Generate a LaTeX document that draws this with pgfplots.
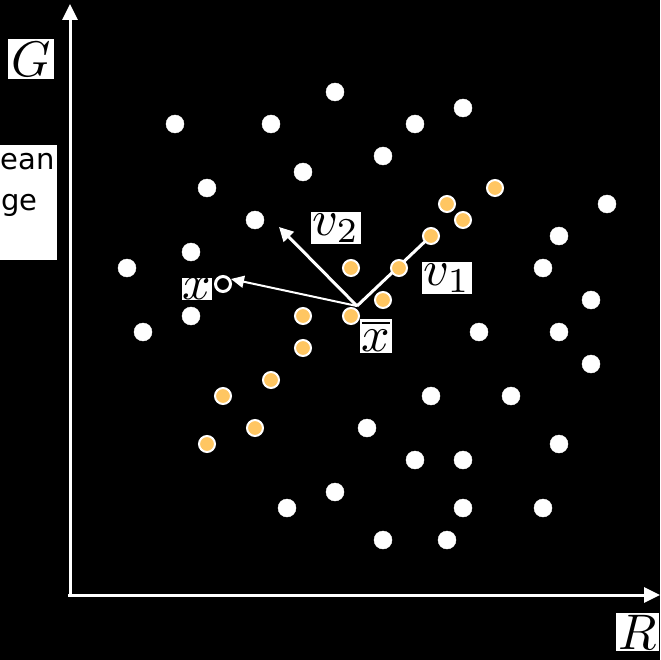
\documentclass[border=0pt]{standalone}
\usepackage{pgfplots}
\pgfplotsset{compat=1.18}
\usepackage{graphicx}
\usepackage{fontspec}
\newfontfamily\sansf{DejaVu Sans}
\usetikzlibrary{arrows.meta}
\definecolor{dotorange}{RGB}{255,198,98}
\newcommand{\bigsym}[1]{\scalebox{5}{#1}}
\begin{document}
\begin{tikzpicture}
\begin{axis}[
  width=660pt, height=660pt, scale only axis,
  xmin=0, xmax=660, ymin=0, ymax=660, y dir=reverse,
  hide axis, clip=false,
]
\fill[black] (axis cs:0,0) rectangle (axis cs:660,660);
% axes
\draw[white, line width=3pt, -{Triangle[length=16pt,width=15pt]}] (axis cs:70,597) -- (axis cs:70,4);
\draw[white, line width=3pt, -{Triangle[length=16pt,width=15pt]}] (axis cs:68,595) -- (axis cs:660,595);
% white points
\addplot[only marks, mark=*, mark size=9pt, draw=white, fill=white] coordinates {
(335,92) (463,108) (175,124) (271,124) (415,124) (383,156) (207,188) (303,172)
(607,204) (255,220) (559,236) (191,252) (127,268) (543,268) (591,300) (143,332)
(191,316) (479,332) (559,332) (591,364) (431,396) (511,396) (367,428) (559,444)
(415,460) (463,460) (335,492) (287,508) (463,508) (543,508) (383,540) (447,540)
};
% orange points
\addplot[only marks, mark=*, mark size=8pt, draw=white, fill=dotorange, line width=2pt] coordinates {
(495,188) (447,204) (463,220) (431,236) (351,268) (399,268) (383,300) (303,316)
(351,316) (303,348) (271,380) (223,396) (255,428) (207,444)
};
% hollow point x
\addplot[only marks, mark=*, mark size=7.5pt, draw=white, fill=black, line width=3pt] coordinates {(223,284)};
% arrows
\draw[white, line width=3pt, -{Triangle[length=14pt,width=14pt]}] (axis cs:357,306) -- (axis cs:279,227);
\draw[white, line width=3pt, -{Triangle[length=10pt,width=10pt]}] (axis cs:357,306) -- (axis cs:435,232);
\draw[white, line width=2pt, -{Triangle[length=13pt,width=12pt]}] (axis cs:357,306) -- (axis cs:231,279);
% labels
\tikzset{lbl/.style={fill=white, text=black, inner sep=1.5pt}}
\node[lbl, inner sep=3pt] at (axis cs:31,59) {\bigsym{$G$}};
\node[lbl, anchor=north west, inner sep=2pt] at (axis cs:616,613) {\bigsym{$R$}};
\node[lbl] at (axis cs:336,228) {\bigsym{$v_2$}};
\node[lbl] at (axis cs:447,278) {\bigsym{$v_1$}};
\node[lbl] at (axis cs:376,336) {\bigsym{$\overline{x}$}};
\node[lbl, inner sep=0.5pt] at (axis cs:197,289) {\bigsym{$x$}};
% mean image box
\fill[white] (axis cs:-5,145) rectangle (axis cs:57,260);
\node[anchor=base east, text=black, inner sep=0pt, font=\sansf\fontsize{29}{35}\selectfont] at (axis cs:55,170) {mean};
\node[anchor=base east, text=black, inner sep=0pt, font=\sansf\fontsize{29}{35}\selectfont] at (axis cs:38,211) {image};
\end{axis}
\pgfresetboundingbox
\path[use as bounding box] (current axis.south west) rectangle (current axis.north east);
\end{tikzpicture}
\end{document}
